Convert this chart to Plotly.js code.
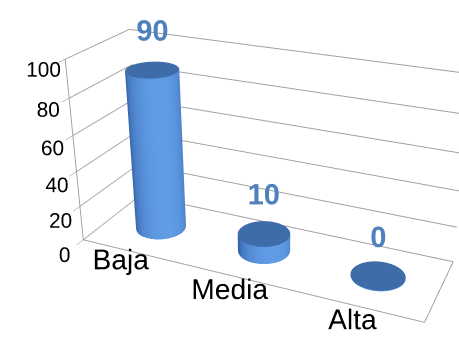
<!DOCTYPE html>
<html>
<head>
<meta charset="utf-8">
<script src="https://cdn.plot.ly/plotly-3.0.1.min.js"></script>
<style>
html,body{margin:0;padding:0;background:#fff;overflow:hidden;width:459px;height:356px;position:relative;}
#chart{position:absolute;left:-195px;top:-193px;width:918px;height:712px;}
#err{position:absolute;left:0;top:0;font:11px sans-serif;color:red;}
</style>
</head>
<body>
<div id="chart"></div>
<div id="err"></div>
<script>
window.onerror = function (m) { document.getElementById('err').textContent += ' onerror: ' + m; };
// ---- data ----
const categories = ['Baja', 'Media', 'Alta'];
const values = [90, 10, 0];
const valueTicks = [0, 20, 40, 60, 80, 100];
const valueLabels = ['0', '20', '40', '60', '80', '100'];

// ---- geometry settings ----
const xRange = [-0.5, categories.length - 0.5];
const yRange = [0, 1];
const zRange = [0, 100];
const aspect = {x: 2.4, y: 0.75, z: 1.3};
const radiusX = 0.22;
const radiusY = radiusX * (aspect.x / (xRange[1] - xRange[0])) / (aspect.y / (yRange[1] - yRange[0]));
const depthCenter = 0.5;
const N = 48;
const eye = {x: 2.05, y: -4.6, z: 2.3};
const camAngle = Math.atan2(eye.y, eye.x);

function sideColor(theta) {
  const f = Math.max(0, Math.cos(theta - camAngle - 0.35));
  const c0 = [52, 98, 168], c1 = [96, 156, 230];
  const c = c0.map((v, i) => Math.round(v + (c1[i] - v) * Math.pow(f, 0.7)));
  return 'rgb(' + c.join(',') + ')';
}
const topColor = 'rgb(62,108,168)';

const traces = [];
values.forEach((v, idx) => {
  const xs = [], ys = [], zs = [], cols = [], I = [], J = [], K = [];
  const h = Math.max(v, 0.4);
  for (let k = 0; k < N; k++) {
    const t = 2 * Math.PI * k / N;
    xs.push(idx + radiusX * Math.cos(t)); ys.push(depthCenter + radiusY * Math.sin(t)); zs.push(0); cols.push(sideColor(t));
  }
  for (let k = 0; k < N; k++) {
    const t = 2 * Math.PI * k / N;
    xs.push(idx + radiusX * Math.cos(t)); ys.push(depthCenter + radiusY * Math.sin(t)); zs.push(h); cols.push(sideColor(t));
  }
  for (let k = 0; k < N; k++) {
    const k2 = (k + 1) % N;
    I.push(k); J.push(k2); K.push(N + k);
    I.push(N + k); J.push(k2); K.push(N + k2);
  }
  const c = xs.length;
  xs.push(idx); ys.push(depthCenter); zs.push(h); cols.push(topColor);
  for (let k = 0; k < N; k++) {
    const t = 2 * Math.PI * k / N;
    xs.push(idx + radiusX * Math.cos(t)); ys.push(depthCenter + radiusY * Math.sin(t)); zs.push(h); cols.push(topColor);
  }
  for (let k = 0; k < N; k++) {
    I.push(c); J.push(c + 1 + k); K.push(c + 1 + (k + 1) % N);
  }
  traces.push({
    type: 'mesh3d', x: xs, y: ys, z: zs, i: I, j: J, k: K,
    vertexcolor: cols, flatshading: false,
    lighting: {ambient: 1, diffuse: 0, specular: 0, roughness: 1, fresnel: 0},
    hoverinfo: 'skip', showscale: false
  });
});

traces.push({
  type: 'scatter3d', mode: 'text',
  x: categories.map((c, i) => i),
  y: categories.map(() => depthCenter),
  z: values,
  text: values.map(v => '<b>' + v + '</b>'),
  textposition: 'top center',
  textfont: {family: 'Liberation Sans', size: 29, color: '#4F81BD'},
  hoverinfo: 'skip', showlegend: false
});

const axisBase = {
  showbackground: false, showspikes: false, zeroline: false,
  title: {text: ''}, linecolor: '#a0a0a0', linewidth: 2,
  tickfont: {family: 'Liberation Sans', color: '#000'}
};

const layout = {
  width: 918, height: 712,
  margin: {l: 0, r: 0, t: 0, b: 0},
  paper_bgcolor: '#fff',
  showlegend: false,
  hovermode: false,
  scene: {
    domain: {x: [0, 1], y: [0, 1]},
    aspectmode: 'manual',
    aspectratio: aspect,
    camera: {eye: eye, center: {x: 0, y: 0, z: 0}, up: {x: 0, y: 0, z: 1}, projection: {type: 'perspective'}},
    xaxis: Object.assign({}, axisBase, {
      range: xRange, tickmode: 'array', tickvals: categories.map((c, i) => i), ticktext: categories,
      showgrid: false, showline: true, ticks: '', tickangle: 0,
      tickfont: {family: 'Liberation Sans', color: '#000', size: 18.4}
    }),
    yaxis: Object.assign({}, axisBase, {
      range: yRange, showgrid: false, showline: true, showticklabels: false, ticks: ''
    }),
    zaxis: Object.assign({}, axisBase, {
      range: zRange, tickmode: 'array', tickvals: valueTicks, ticktext: valueLabels, tickangle: 0,
      showgrid: true, gridcolor: '#a0a0a0', gridwidth: 2, showline: true, ticks: 'outside', ticklen: 6, tickcolor: '#808080',
      tickfont: {family: 'Liberation Sans', color: '#000', size: 15.8}
    })
  }
};

Plotly.newPlot('chart', traces, layout, {displayModeBar: false})
  .catch(e => { document.getElementById('err').textContent += ' reject: ' + e; });
</script>
</body>
</html>
